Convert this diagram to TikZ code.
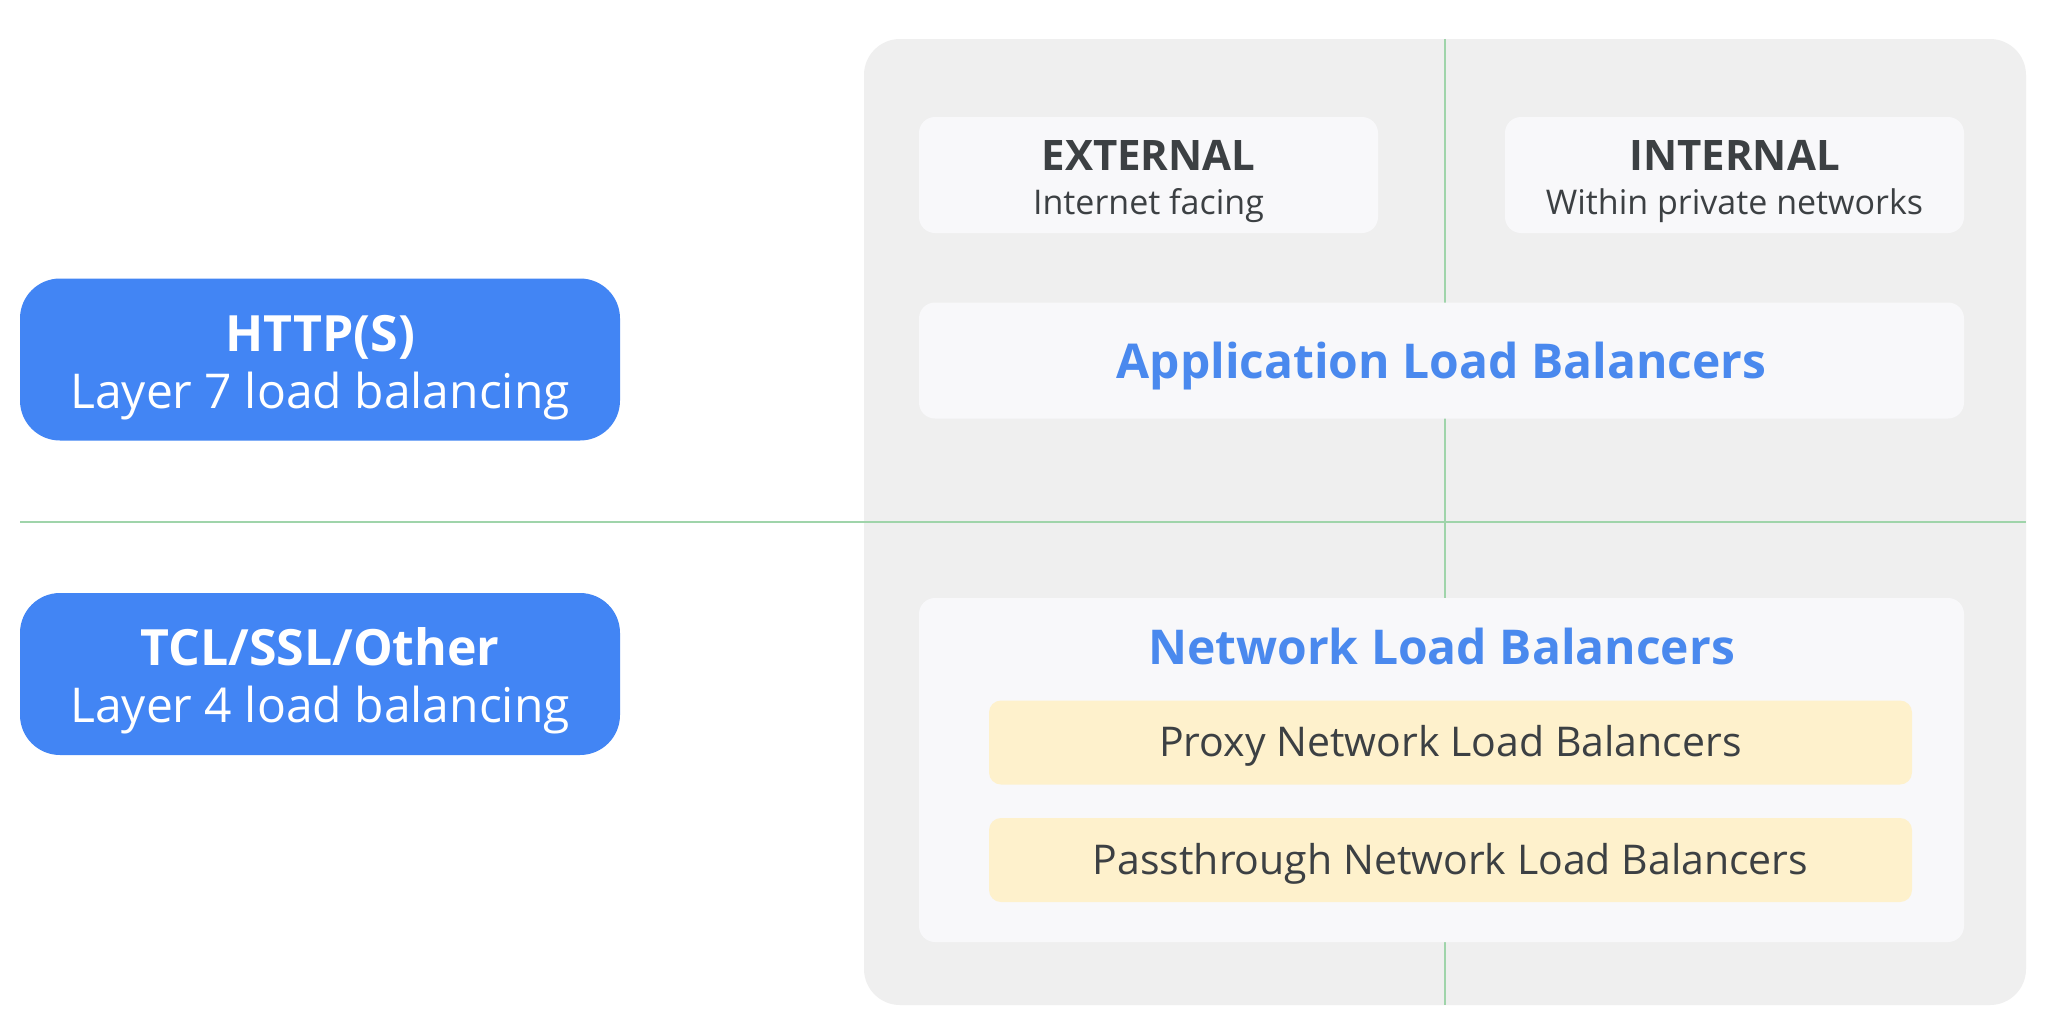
\documentclass[tikz,border=0pt]{standalone}
\usepackage{fontspec}
\setmainfont{Open Sans}
\definecolor{gblue}{HTML}{4285F4}
\definecolor{gbluetext}{HTML}{4A89EE}
\definecolor{panelgray}{HTML}{EFEFEF}
\definecolor{boxwhite}{HTML}{F8F8FA}
\definecolor{boxyellow}{HTML}{FEF1CC}
\definecolor{darktext}{HTML}{3C4043}
\definecolor{gridgreen}{HTML}{9FD4AA}
\tikzset{
  bluebox/.style={draw=none, fill=gblue, rounded corners=40pt, minimum width=600pt, minimum height=162pt, inner sep=0pt},
  panelbox/.style={draw=none, fill=panelgray, rounded corners=36pt, minimum width=1162pt, minimum height=966pt, inner sep=0pt},
  whitebox/.style={draw=none, fill=boxwhite, rounded corners=16pt, inner sep=0pt},
  yellowbox/.style={draw=none, fill=boxyellow, rounded corners=12pt, minimum width=923pt, minimum height=84pt, inner sep=0pt},
  gridline/.style={draw=gridgreen, line width=2.2pt},
  txt/.style={inner sep=0pt, anchor=base, text=darktext},
  bluetitle/.style={txt, text=gbluetext, font=\fontsize{48}{58}\selectfont\bfseries},
  whitetitle/.style={txt, text=white, font=\fontsize{50}{60}\selectfont\bfseries},
  whitesub/.style={txt, text=white, font=\fontsize{48}{58}\selectfont},
  coltitle/.style={txt, font=\fontsize{42}{50}\selectfont\bfseries},
  colsub/.style={txt, font=\fontsize{34}{42}\selectfont},
  yellowtxt/.style={txt, font=\fontsize{41}{50}\selectfont},
}
\begin{document}
\begin{tikzpicture}[x=1pt,y=-1pt]
\useasboundingbox (0,0) rectangle (2046,1020);
\fill[white] (0,0) rectangle (2046,1020);

% main grey panel
\node[panelbox] (panel) at (1445,522) {};

% grid lines
\coordinate (hleft) at (20,522);
\coordinate (hright) at (panel.east);
\draw[gridline] (panel.north) -- (panel.south);
\draw[gridline] (hleft) -- (hright);

% left category boxes
\node[bluebox] (http) at (320,359.5) {};
\node[whitetitle] (httpT) at (320,351) {HTTP(S)};
\node[whitesub] (httpS) at (320,408) {Layer 7 load balancing};

\node[bluebox] (tcl) at (320,674) {};
\node[whitetitle] (tclT) at (320,665) {TCL/SSL/Other};
\node[whitesub] (tclS) at (320,722) {Layer 4 load balancing};

% column headers
\node[whitebox, minimum width=459pt, minimum height=116pt] (ext) at (1148.5,175) {};
\node[coltitle] (extT) at (1148.5,170) {EXTERNAL};
\node[colsub] (extS) at (1148.5,214) {Internet facing};

\node[whitebox, minimum width=459pt, minimum height=116pt] (int) at (1734.5,175) {};
\node[coltitle] (intT) at (1734.5,170) {INTERNAL};
\node[colsub] (intS) at (1734.5,214) {Within private networks};

% application load balancers
\node[whitebox, minimum width=1045pt, minimum height=116pt] (alb) at (1441.5,360.5) {};
\node[bluetitle] (albT) at (1441.5,378) {Application Load Balancers};

% network load balancers
\node[whitebox, minimum width=1045pt, minimum height=344pt] (nlb) at (1441.5,770) {};
\node[bluetitle] (nlbT) at (1441.5,664) {Network Load Balancers};

\node[yellowbox] (proxy) at (1450.5,742.5) {};
\node[yellowtxt] (proxyT) at (1450.5,756) {Proxy Network Load Balancers};

\node[yellowbox] (pass) at (1450.5,860) {};
\node[yellowtxt] (passT) at (1450.5,874) {Passthrough Network Load Balancers};
\end{tikzpicture}
\end{document}
